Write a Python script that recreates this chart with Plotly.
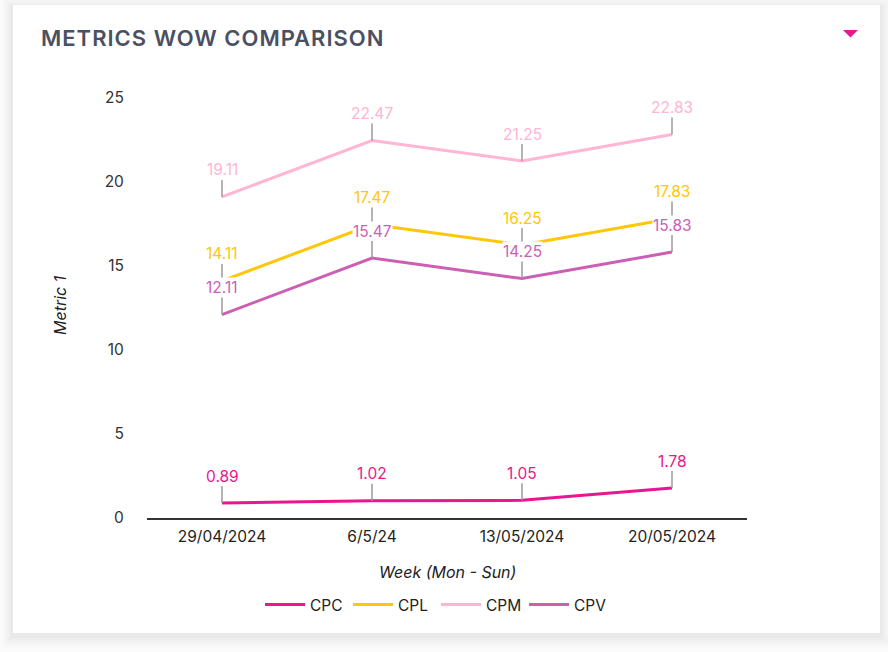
import plotly.graph_objects as go

weeks = ["29/04/2024", "6/5/24", "13/05/2024", "20/05/2024"]
cpc = [0.89, 1.02, 1.05, 1.78]
cpl = [14.11, 17.47, 16.25, 17.83]
cpm = [19.11, 22.47, 21.25, 22.83]
cpv = [12.11, 15.47, 14.25, 15.83]

series = [
    ("CPC", cpc, "#e8168f"),
    ("CPL", cpl, "#ffc60a"),
    ("CPM", cpm, "#ffb5d3"),
    ("CPV", cpv, "#cc5fb3"),
]

W, H = 888, 652
L, R, T, B = 147, 141, 98, 134
PW, PH = W - L - R, H - T - B


def px(x):
    return (x - L) / PW


def py(y):
    return (H - B - y) / PH


FONT = "Inter"
FS = 15.5

fig = go.Figure()
for name, vals, col in series:
    fig.add_trace(go.Scatter(
        x=list(range(len(weeks))), y=vals, name=name, mode="lines",
        line=dict(color=col, width=3), hoverinfo="skip",
    ))

annotations = []
for name, vals, col in series:
    for i, v in enumerate(vals):
        annotations.append(dict(
            x=i, y=v, xref="x", yref="y", text=f"{v:.2f}",
            showarrow=True, arrowhead=0, arrowwidth=1.5, arrowcolor="#9a9a9a",
            ax=0, ay=-27, bgcolor="white", borderpad=0,
            font=dict(family=FONT, size=FS, color=col),
        ))

# title
annotations.append(dict(
    x=px(39), y=py(38), xref="paper", yref="paper", xanchor="left", yanchor="middle",
    text='<span style="letter-spacing:1px">METRICS WOW COMPARISON</span>',
    showarrow=False,
    font=dict(family=FONT, size=22, color="#4a5062", weight=600),
))
# axis titles
annotations.append(dict(
    x=0.5, y=py(572), xref="paper", yref="paper", xanchor="center", yanchor="middle",
    text="Week (Mon - Sun)", showarrow=False,
    font=dict(family=FONT, size=16, color="#222222", style="italic"),
))
annotations.append(dict(
    x=px(60), y=py(305), xref="paper", yref="paper", xanchor="center", yanchor="middle",
    text="Metric 1", showarrow=False, textangle=-90,
    font=dict(family=FONT, size=16, color="#222222", style="italic"),
))

shapes = []
# soft card shadow
for i, op in enumerate([0.006, 0.008, 0.010, 0.012, 0.014, 0.016]):
    d = 12 - 2 * i
    shapes.append(dict(
        type="rect", xref="paper", yref="paper", layer="below",
        x0=px(13 - d), x1=px(880 + d), y0=py(633 + d + 3), y1=py(5 - d + 3),
        fillcolor=f"rgba(0,0,0,{op})", line=dict(width=0),
    ))
shapes.append(dict(
    type="rect", xref="paper", yref="paper", layer="below",
    x0=px(13), x1=px(880), y0=py(633), y1=py(5),
    fillcolor="white", line=dict(width=0),
))
# dropdown triangle
shapes.append(dict(
    type="path", xref="paper", yref="paper",
    path=f"M {px(843)} {py(30)} L {px(858)} {py(30)} L {px(850.5)} {py(37.5)} Z",
    fillcolor="#e8168f", line=dict(width=0),
))

fig.update_layout(
    width=W, height=H,
    margin=dict(l=L, r=R, t=T, b=B, pad=0),
    paper_bgcolor="#fbfbfb",
    plot_bgcolor="rgba(0,0,0,0)",
    font=dict(family=FONT, size=FS, color="#222222"),
    showlegend=True,
    legend=dict(
        orientation="h", x=0.5 - 11 / PW, xanchor="center", y=py(605), yanchor="middle",
        font=dict(family=FONT, size=FS, color="#222222"),
        itemwidth=40, entrywidth=33, entrywidthmode="pixels",
        bgcolor="rgba(0,0,0,0)",
    ),
    xaxis=dict(
        range=[-0.5, 3.5], tickmode="array", tickvals=list(range(len(weeks))),
        ticktext=weeks, showgrid=False, zeroline=False,
        showline=True, linecolor="#333333", linewidth=1.5,
        ticks="outside", ticklen=4, tickcolor="rgba(0,0,0,0)",
        tickfont=dict(family=FONT, size=FS, color="#222222"),
        fixedrange=True,
    ),
    yaxis=dict(
        range=[0, 25], tickvals=[0, 5, 10, 15, 20, 25], showgrid=False,
        zeroline=False, showline=False, ticks="outside", ticklen=19,
        tickcolor="rgba(0,0,0,0)",
        tickfont=dict(family=FONT, size=FS, color="#333333"), fixedrange=True,
    ),
    annotations=annotations,
    shapes=shapes,
)

fig.write_html("out.html")
